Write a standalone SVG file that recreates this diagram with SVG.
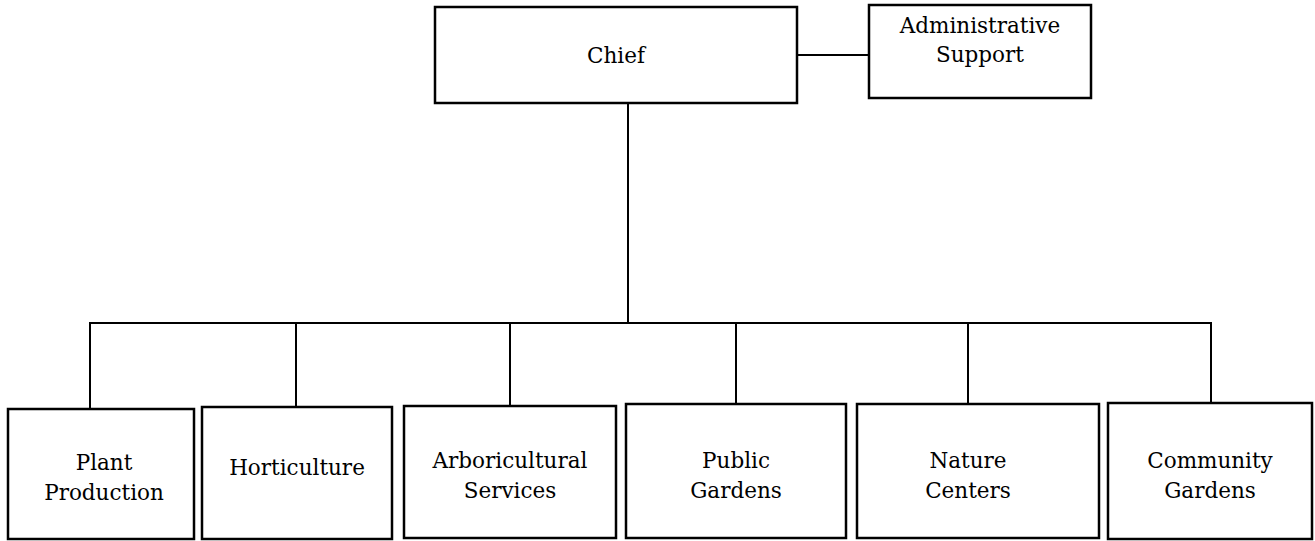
<svg xmlns="http://www.w3.org/2000/svg" width="1315" height="541" viewBox="0 0 1315 541">
<style>
  .box { fill: #ffffff; stroke: #000000; stroke-width: 2.5; }
  .lbl { font-family: "DejaVu Serif", "Liberation Serif", serif; font-size: 21.5px; fill: #000000; text-anchor: middle; }
  .conn { stroke: #000000; stroke-width: 2; fill: none; }
</style>
<rect width="1315" height="541" fill="#ffffff"/>
<g id="connectors">
  <line class="conn" x1="797" y1="55" x2="869" y2="55"/>
  <line class="conn" x1="628" y1="103" x2="628" y2="323"/>
  <line class="conn" x1="89" y1="323" x2="1212" y2="323"/>
  <line class="conn" x1="90" y1="323" x2="90" y2="409"/>
  <line class="conn" x1="296" y1="323" x2="296" y2="407"/>
  <line class="conn" x1="510" y1="323" x2="510" y2="406"/>
  <line class="conn" x1="736" y1="323" x2="736" y2="404"/>
  <line class="conn" x1="968" y1="323" x2="968" y2="404"/>
  <line class="conn" x1="1211" y1="323" x2="1211" y2="403"/>
</g>
<g id="chief">
  <rect class="box" x="435" y="7" width="362" height="96"/>
  <text class="lbl" x="616" y="63">Chief</text>
</g>
<g id="admin-support">
  <rect class="box" x="869" y="5" width="222" height="93"/>
  <text class="lbl" x="980" y="33">Administrative</text>
  <text class="lbl" x="980" y="62">Support</text>
</g>
<g id="plant-production">
  <rect class="box" x="8" y="409" width="186" height="130"/>
  <text class="lbl" x="104" y="470">Plant</text>
  <text class="lbl" x="104" y="500">Production</text>
</g>
<g id="horticulture">
  <rect class="box" x="202" y="407" width="190" height="132"/>
  <text class="lbl" x="297" y="475">Horticulture</text>
</g>
<g id="arboricultural-services">
  <rect class="box" x="404" y="406" width="212" height="132"/>
  <text class="lbl" x="510" y="468">Arboricultural</text>
  <text class="lbl" x="510" y="498">Services</text>
</g>
<g id="public-gardens">
  <rect class="box" x="626" y="404" width="220" height="134"/>
  <text class="lbl" x="736" y="468">Public</text>
  <text class="lbl" x="736" y="498">Gardens</text>
</g>
<g id="nature-centers">
  <rect class="box" x="857" y="404" width="242" height="134"/>
  <text class="lbl" x="968" y="468">Nature</text>
  <text class="lbl" x="968" y="498">Centers</text>
</g>
<g id="community-gardens">
  <rect class="box" x="1108" y="403" width="204" height="136"/>
  <text class="lbl" x="1210" y="468">Community</text>
  <text class="lbl" x="1210" y="498">Gardens</text>
</g>
</svg>
